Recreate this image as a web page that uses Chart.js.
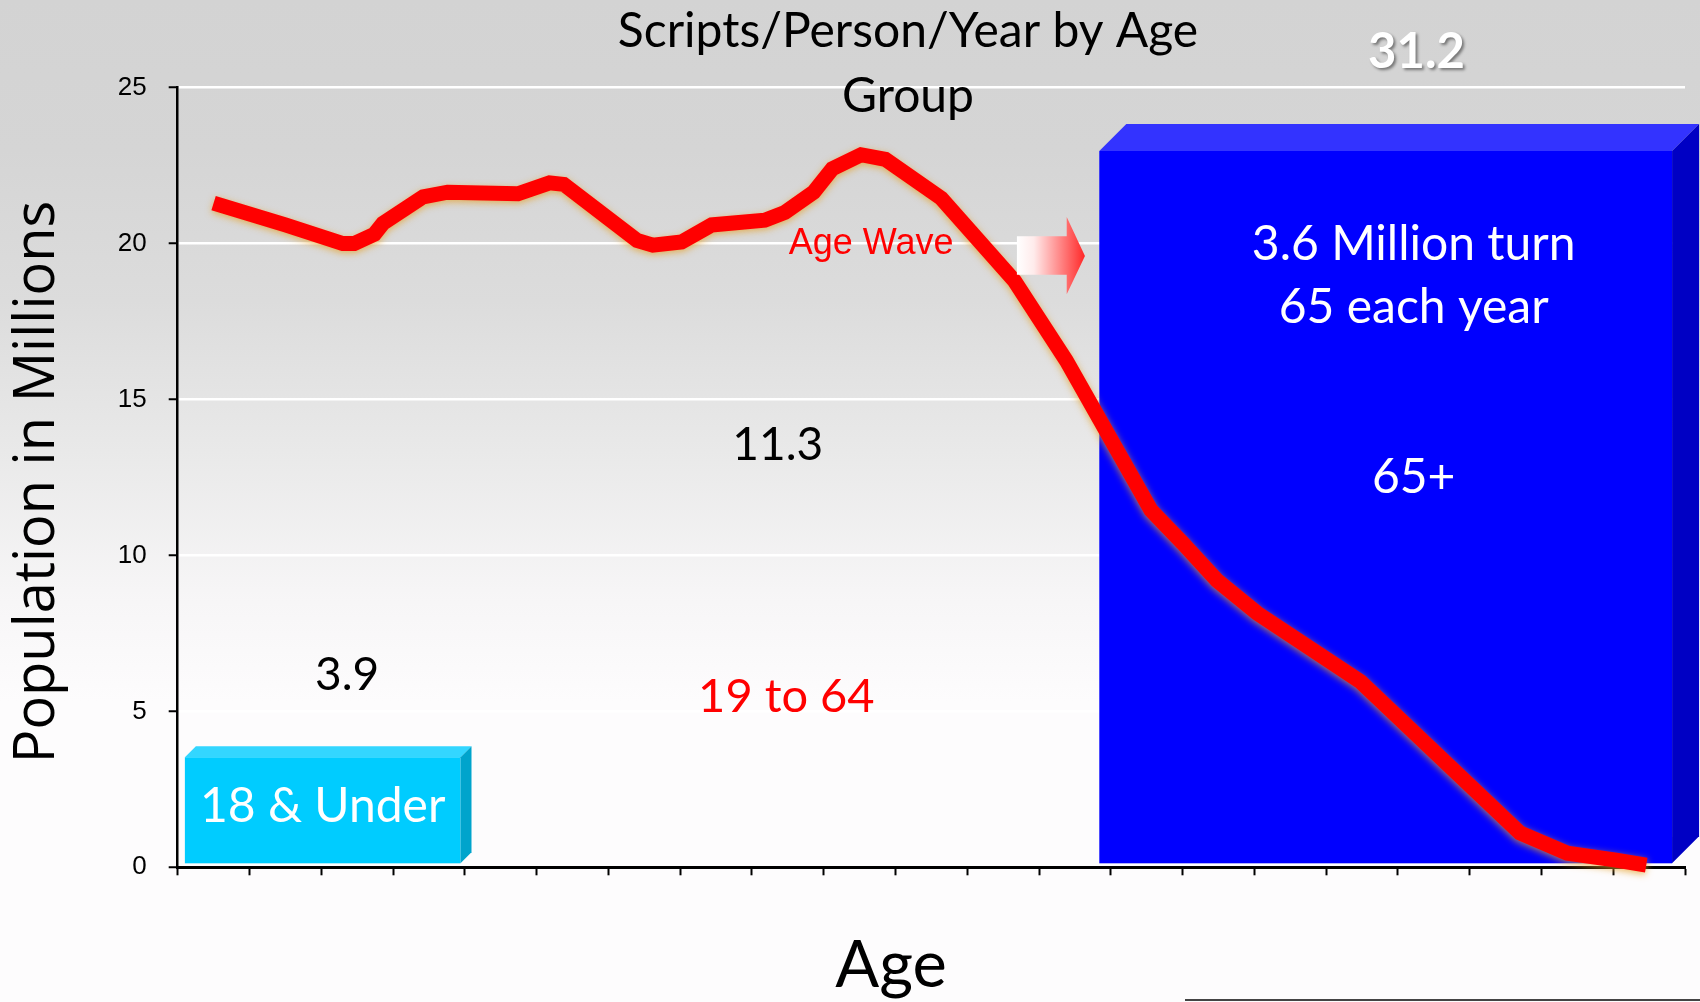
<!DOCTYPE html>
<html>
<head>
<meta charset="utf-8">
<script src="https://cdn.jsdelivr.net/npm/chart.js@4.4.1/dist/chart.umd.min.js"></script>
<style>
  html, body { margin: 0; padding: 0; }
  body {
    width: 1700px; height: 1002px; overflow: hidden;
    background: linear-gradient(to bottom, #d3d3d3 0%, #d5d5d5 15%, #dcdcdc 30%, #e9e9e9 45%, #f7f6f7 60%, #fdfcfd 70%, #fdfcfd 100%);
  }
</style>
</head>
<body>
<canvas id="myChart" width="1700" height="1002"></canvas>
<script>
// population curve (millions) by age
const ages = [0, 5.0, 9.0, 9.8, 11.2, 11.8, 14.6, 16.3, 21.2, 23.4, 24.4, 29.5, 30.6, 32.6, 34.7, 38.4, 39.8, 41.8, 43.1, 45.1, 46.8, 50.7, 55.8, 59.4, 65.3, 67.5, 69.9, 72.7, 79.9, 91.0, 94.3, 97.7, 99.8];
const population = [21.3, 20.6, 20.0, 20.0, 20.3, 20.65, 21.5, 21.65, 21.6, 21.95, 21.9, 20.1, 19.95, 20.05, 20.6, 20.75, 21.0, 21.65, 22.4, 22.85, 22.7, 21.45, 18.8, 16.25, 11.45, 10.4, 9.2, 8.15, 5.95, 1.1, 0.45, 0.23, 0.07];

// tick marks on the age axis sit between the 5-year groups
const ageEdges = [-2.5, 2.5, 7.5, 12.5, 17.5, 22.5, 27.5, 32.5, 37.5, 42.5, 47.5, 52.5, 57.5, 62.5, 67.5, 72.5, 77.5, 82.5, 87.5, 92.5, 97.5, 102.5];
const popTicks = [0, 5, 10, 15, 20, 25];

// age groups and scripts per person per year
const groupNames = ['18 & Under', '19 to 64', '65+'];
const scriptsPerPerson = [3.9, 11.3, 31.2];
const boxFrom = [-2.0, null, 61.7];
const boxTo = [17.2, null, 101.6];
const boxHeight = [3.53, null, 22.97];

const boxStyle = [
  { front: '#00ccff', top: '#33d6ff', side: '#00a4cc', depth: 11 },
  null,
  { front: '#0000ff', top: '#3333ff', side: '#0000c4', depth: 27 }
];

function txt(ctx, s, x, y, font, color, align) {
  ctx.font = font;
  ctx.fillStyle = color;
  ctx.textAlign = align || 'center';
  ctx.textBaseline = 'alphabetic';
  ctx.fillText(s, x, y);
}

const decor = {
  id: 'decor',
  beforeDatasetsDraw(chart) {
    const ctx = chart.ctx, xs = chart.scales.x, ys = chart.scales.y;
    ctx.save();
    for (let i = 0; i < groupNames.length; i++) {
      const st = boxStyle[i];
      if (!st || boxHeight[i] == null) continue;
      const x1 = xs.getPixelForValue(boxFrom[i]);
      const x2 = xs.getPixelForValue(boxTo[i]);
      const yt = ys.getPixelForValue(boxHeight[i]);
      const yb = ys.getPixelForValue(0) - 4;
      const d = st.depth;
      ctx.fillStyle = st.front;
      ctx.fillRect(x1, yt, x2 - x1, yb - yt);
      ctx.fillStyle = st.top;
      ctx.beginPath();
      ctx.moveTo(x1, yt); ctx.lineTo(x2, yt); ctx.lineTo(x2 + d, yt - d); ctx.lineTo(x1 + d, yt - d);
      ctx.closePath(); ctx.fill();
      ctx.fillStyle = st.side;
      ctx.beginPath();
      ctx.moveTo(x2, yt); ctx.lineTo(x2 + d, yt - d); ctx.lineTo(x2 + d, yb - d); ctx.lineTo(x2, yb);
      ctx.closePath(); ctx.fill();
    }
    ctx.restore();
  },
  beforeDatasetDraw(chart) {
    const ctx = chart.ctx;
    ctx.save();
    ctx.shadowColor = 'rgba(230,160,40,0.75)';
    ctx.shadowBlur = 7;
    ctx.shadowOffsetY = 2;
  },
  afterDatasetDraw(chart) {
    chart.ctx.restore();
  },
  afterDatasetsDraw(chart) {
    const ctx = chart.ctx, xs = chart.scales.x, ys = chart.scales.y;
    const px = v => xs.getPixelForValue(v), py = v => ys.getPixelForValue(v);
    ctx.save();

    // titles
    txt(ctx, 'Scripts/Person/Year by Age', 908, 47, '48px Lato', '#000');
    txt(ctx, 'Group', 908, 112, '48px Lato', '#000');
    txt(ctx, 'Age', 891, 987, '65px Lato', '#000');
    ctx.save();
    ctx.translate(38, 482);
    ctx.rotate(-Math.PI / 2);
    ctx.font = '56px "Open Sans"';
    ctx.fillStyle = '#000';
    ctx.textAlign = 'center';
    ctx.textBaseline = 'middle';
    ctx.fillText('Population in Millions', 0, 0);
    ctx.restore();

    // group labels
    txt(ctx, String(scriptsPerPerson[0]), px(9.3), py(5.67), '46px Lato', '#000');
    txt(ctx, groupNames[0], px(7.6), py(1.46), '48px Lato', '#fff');
    txt(ctx, String(scriptsPerPerson[1]), px(39.3), py(13.07), '46px Lato', '#000');
    txt(ctx, groupNames[1], px(39.9), py(4.98), '47px Lato', '#ff0000');
    txt(ctx, '3.6 Million turn', px(83.6), py(19.48), '48px Lato', '#fff');
    txt(ctx, '65 each year', px(83.6), py(17.45), '48px Lato', '#fff');
    txt(ctx, groupNames[2], px(83.6), py(12.0), '48px Lato', '#fff');

    ctx.save();
    ctx.shadowColor = 'rgba(0,0,0,0.45)';
    ctx.shadowBlur = 3;
    ctx.shadowOffsetX = 2;
    ctx.shadowOffsetY = 2;
    txt(ctx, String(scriptsPerPerson[2]), px(83.8), py(25.62), 'bold 49px Lato', '#fff');
    ctx.restore();

    txt(ctx, 'Age Wave', px(45.8), py(19.67), '36px "Liberation Sans"', '#ff0000');

    // arrow toward the 65+ block
    const ax1 = px(55.96), ax2 = px(59.43), ax3 = px(60.7);
    const ayb1 = py(20.24), ayb2 = py(19.0), ayh1 = py(20.85), ayh2 = py(18.38), aym = py(19.6);
    const g = ctx.createLinearGradient(ax1, 0, ax3, 0);
    g.addColorStop(0, 'rgba(255,255,255,1)');
    g.addColorStop(0.25, 'rgba(255,235,235,1)');
    g.addColorStop(1, 'rgba(255,40,40,1)');
    ctx.fillStyle = g;
    ctx.beginPath();
    ctx.moveTo(ax1, ayb1); ctx.lineTo(ax2, ayb1); ctx.lineTo(ax2, ayh1); ctx.lineTo(ax3, aym);
    ctx.lineTo(ax2, ayh2); ctx.lineTo(ax2, ayb2); ctx.lineTo(ax1, ayb2);
    ctx.closePath(); ctx.fill();

    // stray rule at the bottom right of the slide
    ctx.strokeStyle = '#444';
    ctx.lineWidth = 2;
    ctx.beginPath();
    ctx.moveTo(1185, 1000); ctx.lineTo(1700, 1000);
    ctx.stroke();

    ctx.restore();
  }
};

function makeChart() {
  const ctx = document.getElementById('myChart').getContext('2d');
  let myChart = new Chart(ctx, {
    type: 'line',
    data: {
      datasets: [{
        label: 'Population',
        data: ages.map((a, i) => ({ x: a, y: population[i] })),
        borderColor: '#ff0000',
        borderWidth: 15,
        borderCapStyle: 'butt',
        borderJoinStyle: 'miter',
        pointRadius: 0,
        tension: 0,
        fill: false,
        clip: false
      }]
    },
    options: {
      responsive: false,
      animation: false,
      devicePixelRatio: 1,
      layout: { padding: { top: 87.7, right: 15, bottom: 0, left: 0 } },
      plugins: { legend: { display: false }, tooltip: { enabled: false } },
      scales: {
        x: {
          type: 'linear',
          min: -2.5,
          max: 102.5,
          afterBuildTicks: s => { s.ticks = ageEdges.map(v => ({ value: v })); },
          afterFit: s => { s.height = 134.7; },
          ticks: { display: false },
          grid: { drawOnChartArea: false, drawTicks: true, tickLength: 8, tickColor: '#000', tickWidth: 2 },
          border: { color: '#000', width: 3 }
        },
        y: {
          min: 0,
          max: 25,
          afterBuildTicks: s => { s.ticks = popTicks.map(v => ({ value: v })); },
          afterFit: s => { s.width = 177.7; },
          ticks: { color: '#000', padding: 22, font: { family: '"Liberation Sans", Arial', size: 26 } },
          grid: { color: '#ffffff', lineWidth: 2.5, tickColor: '#000', tickLength: 9, tickWidth: 2 },
          border: { color: '#000', width: 2.5 }
        }
      }
    },
    plugins: [decor]
  });
  return myChart;
}

Promise.all([
  document.fonts.load('48px Lato'),
  document.fonts.load('bold 49px Lato'),
  document.fonts.load('56px "Open Sans"')
]).then(makeChart, makeChart);
</script>
</body>
</html>
